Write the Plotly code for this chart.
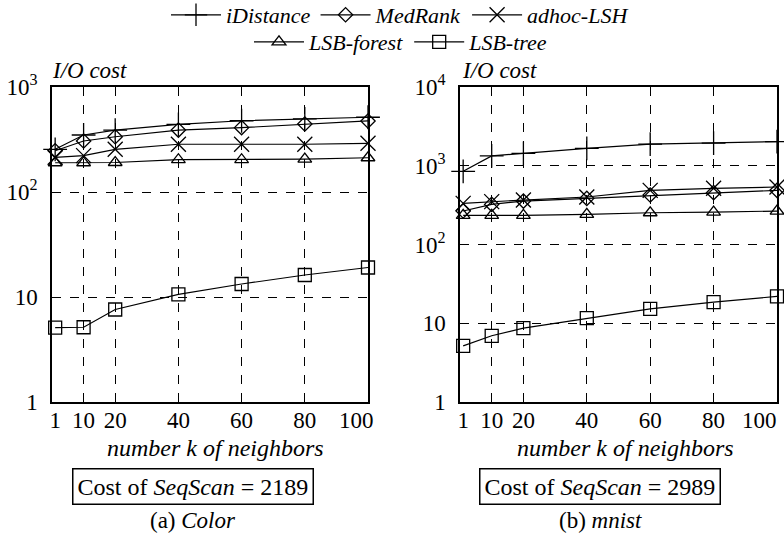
import plotly.graph_objects as go

# Number of neighbours k on the x axis
k_values = [1, 10, 20, 40, 60, 80, 100]

# I/O cost on the Color dataset
color_idistance = [255, 349, 389, 441, 477, 496, 515]
color_medrank = [247, 306, 336, 389, 410, 444, 475]
color_adhoc = [214, 222, 255, 285, 285, 285, 291]
color_forest = [190, 190, 191, 203, 203, 206, 212]
color_tree = [5.1, 5.15, 7.6, 10.6, 13.3, 16.2, 19.1]

# I/O cost on the mnist dataset
mnist_idistance = [850, 1333, 1440, 1665, 1879, 1935, 2030]
mnist_medrank = [266, 323, 356, 385, 425, 455, 487]
mnist_adhoc = [333, 350, 367, 401, 487, 517, 537]
mnist_forest = [234, 234, 234, 241, 253, 258, 266]
mnist_tree = [5.17, 6.93, 8.68, 11.6, 15.2, 18.6, 21.9]

series_names = ["iDistance", "MedRank", "adhoc-LSH", "LSB-forest", "LSB-tree"]
series_symbols = ["cross-thin", "diamond-open", "x-thin", "triangle-up-open", "square-open"]
series_sizes = [17, 11, 15, 12, 13]
series_legends = ["legend", "legend", "legend", "legend2", "legend2"]

x_tick_vals = [1, 10, 20, 40, 60, 80, 100]
x_tick_text = ["1", "10", "20", "40", "60", "80", "100"]
x_grid_vals = [10, 20, 40, 60, 80]

color_y_ticks = [1, 10, 100, 1000]
color_y_text = ["1", "10", "10<sup>2</sup>", "10<sup>3</sup>"]
mnist_y_ticks = [1, 10, 100, 1000, 10000]
mnist_y_text = ["1", "10", "10<sup>2</sup>", "10<sup>3</sup>", "10<sup>4</sup>"]

seqscan_color = 2189
seqscan_mnist = 2989

FONT = "Liberation Serif"
W, H = 784, 534

fig = go.Figure()

panels = [
    ("x", "y", [color_idistance, color_medrank, color_adhoc, color_forest, color_tree], True),
    ("x2", "y2", [mnist_idistance, mnist_medrank, mnist_adhoc, mnist_forest, mnist_tree], False),
]
for xa, ya, series, show in panels:
    for name, sym, size, leg, vals in zip(series_names, series_symbols, series_sizes,
                                          series_legends, series):
        fig.add_trace(go.Scatter(
            x=k_values, y=vals, xaxis=xa, yaxis=ya,
            mode="lines+markers", name="<i>%s</i>" % name,
            line=dict(color="black", width=1.2),
            marker=dict(symbol=sym, size=size, color="black",
                        line=dict(color="black", width=1.3)),
            cliponaxis=False, showlegend=show, legend=leg,
        ))


def px_x(p):
    return p / W


def px_y(p):
    return 1 - p / H


def x_axis(domain, anchor):
    # the last label (right edge) is placed separately so it stays inside the page
    return dict(
        domain=domain, anchor=anchor, range=[0, 100],
        tickmode="array", tickvals=x_tick_vals[:-1], ticktext=x_tick_text[:-1],
        showgrid=False, zeroline=False,
        showline=True, mirror=True, linecolor="black", linewidth=1.5,
        ticks="", ticklabelstandoff=-3,
        tickfont=dict(family=FONT, size=23, color="black"),
        minor=dict(tickvals=x_grid_vals, showgrid=True, gridcolor="black",
                   griddash="dash", gridwidth=1, ticks=""),
    )


def y_axis(domain, anchor, top, ticks, text, grid):
    return dict(
        domain=domain, anchor=anchor, type="log", range=[0, top],
        tickmode="array", tickvals=ticks, ticktext=text,
        showgrid=False, zeroline=False,
        showline=True, mirror=True, linecolor="black", linewidth=1.5,
        ticks="", ticklabelstandoff=8,
        tickfont=dict(family=FONT, size=23, color="black"),
        minor=dict(tickvals=grid, showgrid=True, gridcolor="black",
                   griddash="dash", gridwidth=1, ticks=""),
    )


ydom = [px_y(402), px_y(87)]
legend_style = dict(orientation="h", xanchor="center", yanchor="middle",
                    itemwidth=50, bgcolor="rgba(0,0,0,0)", tracegroupgap=0,
                    font=dict(family=FONT, size=22, color="black"))
fig.update_layout(
    template="none",
    width=W, height=H,
    margin=dict(l=0, r=0, t=0, b=0, autoexpand=False),
    paper_bgcolor="white", plot_bgcolor="white",
    font=dict(family=FONT, color="black"),
    xaxis=x_axis([px_x(52), px_x(368)], "y"),
    yaxis=y_axis(ydom, "x", 3, color_y_ticks, color_y_text, [10, 100]),
    xaxis2=x_axis([px_x(460), px_x(777)], "y2"),
    yaxis2=y_axis(ydom, "x2", 4, mnist_y_ticks, mnist_y_text, [10, 100, 1000]),
    legend=dict(x=px_x(400), y=px_y(15), **legend_style),
    legend2=dict(x=px_x(401), y=px_y(42), **legend_style),
    showlegend=True,
)

annotations = []
# right-most x tick label of each panel, right-aligned at the frame edge
for xref, shift in (("x", 8), ("x2", 2)):
    annotations.append(dict(
        text=x_tick_text[-1], xref=xref, yref="paper",
        x=x_tick_vals[-1], y=px_y(420), xanchor="right", yanchor="middle",
        xshift=shift, showarrow=False,
        font=dict(family=FONT, size=23, color="black")))
# y-axis captions above each panel
for x_left in (50, 460):
    annotations.append(dict(
        text="<i>I/O cost</i>", xref="paper", yref="paper",
        x=px_x(x_left), y=px_y(70), xanchor="left", yanchor="middle",
        showarrow=False, font=dict(family=FONT, size=23, color="black")))
# x-axis titles
for xc in (215, 625):
    annotations.append(dict(
        text="<i>number k of neighbors</i>", xref="paper", yref="paper",
        x=px_x(xc), y=px_y(448), xanchor="center", yanchor="middle",
        showarrow=False, font=dict(family=FONT, size=24, color="black")))
# sequential scan cost boxes
for xc, cost in ((192.5, seqscan_color), (600, seqscan_mnist)):
    annotations.append(dict(
        text="Cost of <i>SeqScan</i> = %d" % cost, xref="paper", yref="paper",
        x=px_x(xc), y=px_y(486), xanchor="center", yanchor="middle",
        showarrow=False, bordercolor="black", borderwidth=1.5, borderpad=4,
        font=dict(family=FONT, size=24, color="black")))
# sub-figure captions
for xc, cap in ((193, "(a) <i>Color</i>"), (600, "(b) <i>mnist</i>")):
    annotations.append(dict(
        text=cap, xref="paper", yref="paper",
        x=px_x(xc), y=px_y(520), xanchor="center", yanchor="middle",
        showarrow=False, font=dict(family=FONT, size=23, color="black")))

fig.update_layout(annotations=annotations)
fig.write_html("out.html")
